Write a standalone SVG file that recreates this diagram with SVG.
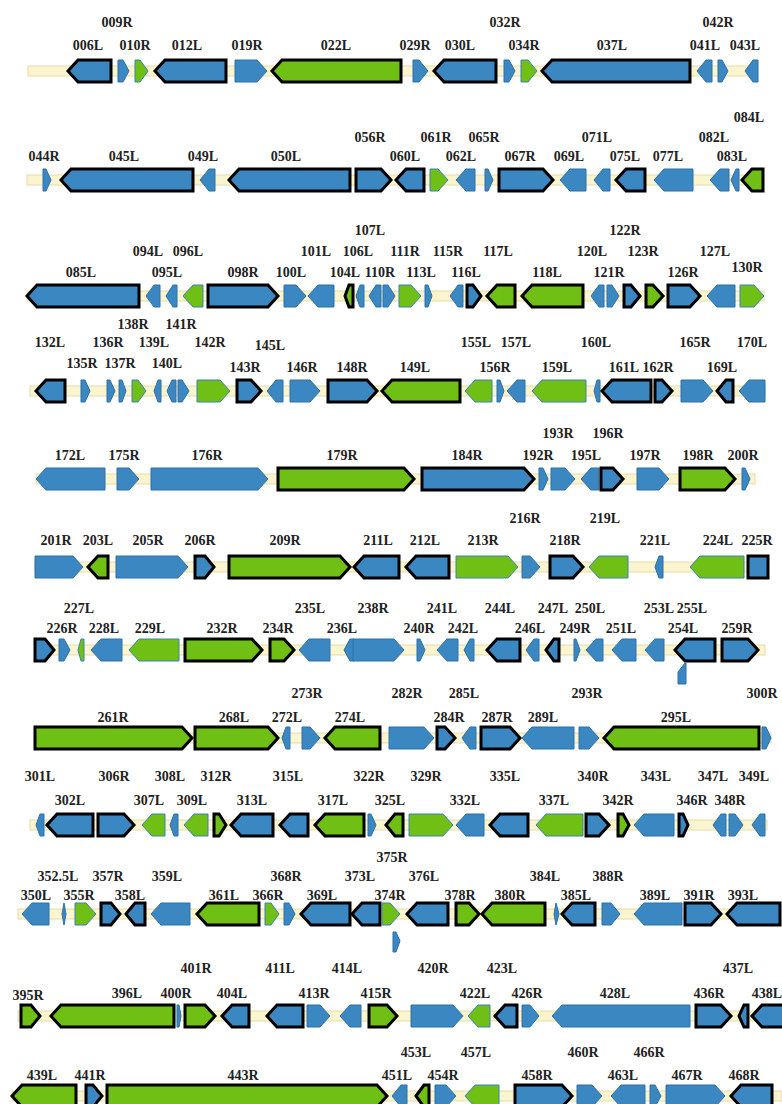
<svg xmlns="http://www.w3.org/2000/svg" width="782" height="1104" viewBox="0 0 782 1104">
<style>
.b{fill:#3b87c2;stroke:#2d70a8;stroke-width:1}
.g{fill:#6fbf14;stroke:#3a80c0;stroke-width:1}
.k{stroke:#000;stroke-width:3;stroke-linejoin:miter}
.bb{fill:#fbf5cf;stroke:#e6dca8;stroke-width:1}
text{font-family:"Liberation Serif",serif;font-weight:bold;font-size:14px;fill:#222;text-anchor:middle}
</style>
<rect width="782" height="1104" fill="#fff"/>
<g id="backbone">
<rect class="bb" x="28" y="66" width="729" height="10"/>
<rect class="bb" x="27" y="175" width="736" height="10"/>
<rect class="bb" x="27" y="291" width="737" height="10"/>
<rect class="bb" x="30" y="386" width="735" height="10"/>
<rect class="bb" x="36" y="474" width="719" height="10"/>
<rect class="bb" x="35" y="562" width="733" height="10"/>
<rect class="bb" x="35" y="645" width="730" height="10"/>
<rect class="bb" x="35" y="733" width="736" height="10"/>
<rect class="bb" x="30" y="820" width="737" height="10"/>
<rect class="bb" x="18" y="909" width="762" height="10"/>
<rect class="bb" x="18" y="1011" width="764" height="10"/>
<rect class="bb" x="12" y="1091" width="770" height="10"/>
</g>
<!-- Row 1 -->
<g id="g006L"><polygon class="b k" points="68,71 78,60 111,60 111,82 78,82"/><text x="88" y="50">006L</text></g>
<g id="g009R"><polygon class="b" points="118,60 123,60 129,71 123,82 118,82"/><text x="117" y="27">009R</text></g>
<g id="g010R"><polygon class="g" points="135,60 140,60 148,71 140,82 135,82"/><text x="135" y="50">010R</text></g>
<g id="g012L"><polygon class="b k" points="155,71 165,60 226,60 226,82 165,82"/><text x="187" y="50">012L</text></g>
<g id="g019R"><polygon class="b" points="235,60 257,60 267,71 257,82 235,82"/><text x="247" y="50">019R</text></g>
<g id="g022L"><polygon class="g k" points="272,71 282,60 401,60 401,82 282,82"/><text x="336" y="50">022L</text></g>
<g id="g029R"><polygon class="b" points="413,60 419,60 428,71 419,82 413,82"/><text x="415" y="50">029R</text></g>
<g id="g030L"><polygon class="b k" points="434,71 444,60 496,60 496,82 444,82"/><text x="460" y="50">030L</text></g>
<g id="g032R"><polygon class="b" points="504,60 509,60 515,71 509,82 504,82"/><text x="505" y="27">032R</text></g>
<g id="g034R"><polygon class="g" points="521,60 528,60 537,71 528,82 521,82"/><text x="524" y="50">034R</text></g>
<g id="g037L"><polygon class="b k" points="542,71 552,60 690,60 690,82 552,82"/><text x="612" y="50">037L</text></g>
<g id="g041L"><polygon class="b" points="697,71 706,60 712,60 712,82 706,82"/><text x="705" y="50">041L</text></g>
<g id="g042R"><polygon class="b" points="718,60 722,60 728,71 722,82 718,82"/><text x="718" y="27">042R</text></g>
<g id="g043L"><polygon class="b" points="745,71 753,60 758,60 758,82 753,82"/><text x="745" y="50">043L</text></g>
<!-- Row 2 -->
<g id="g044R"><polygon class="b" points="43,169 46,169 51,180 46,191 43,191"/><text x="44" y="161">044R</text></g>
<g id="g045L"><polygon class="b k" points="61,180 71,169 193,169 193,191 71,191"/><text x="124" y="161">045L</text></g>
<g id="g049L"><polygon class="b" points="200,180 209,169 215,169 215,191 209,191"/><text x="203" y="161">049L</text></g>
<g id="g050L"><polygon class="b k" points="229,180 239,169 350,169 350,191 239,191"/><text x="286" y="161">050L</text></g>
<g id="g056R"><polygon class="b k" points="356,169 381,169 391,180 381,191 356,191"/><text x="370" y="142">056R</text></g>
<g id="g060L"><polygon class="b k" points="396,180 406,169 424,169 424,191 406,191"/><text x="405" y="161">060L</text></g>
<g id="g061R"><polygon class="g" points="430,169 438,169 448,180 438,191 430,191"/><text x="436" y="142">061R</text></g>
<g id="g062L"><polygon class="b" points="456,180 466,169 475,169 475,191 466,191"/><text x="461" y="161">062L</text></g>
<g id="g065R"><polygon class="b" points="485,169 488,169 493,180 488,191 485,191"/><text x="484" y="142">065R</text></g>
<g id="g067R"><polygon class="b k" points="499,169 543,169 553,180 543,191 499,191"/><text x="520" y="161">067R</text></g>
<g id="g069L"><polygon class="b" points="560,180 570,169 586,169 586,191 570,191"/><text x="569" y="161">069L</text></g>
<g id="g071L"><polygon class="b" points="594,180 603,169 610,169 610,191 603,191"/><text x="597" y="142">071L</text></g>
<g id="g075L"><polygon class="b k" points="616,180 626,169 645,169 645,191 626,191"/><text x="625" y="161">075L</text></g>
<g id="g077L"><polygon class="b" points="654,180 664,169 693,169 693,191 664,191"/><text x="668" y="161">077L</text></g>
<g id="g082L"><polygon class="b" points="710,180 720,169 729,169 729,191 720,191"/><text x="714" y="142">082L</text></g>
<g id="g083L"><polygon class="b" points="731,180 736,169 739,169 739,191 736,191"/><text x="732" y="161">083L</text></g>
<g id="g084L"><polygon class="g k" points="742,180 752,169 763,169 763,191 752,191"/><text x="749" y="122">084L</text></g>
<!-- Row 3 -->
<g id="g085L"><polygon class="b k" points="27,296 37,285 139,285 139,307 37,307"/><text x="81" y="277">085L</text></g>
<g id="g094L"><polygon class="b" points="146,296 154,285 160,285 160,307 154,307"/><text x="148" y="256">094L</text></g>
<g id="g095L"><polygon class="b" points="166,296 173,285 177,285 177,307 173,307"/><text x="167" y="277">095L</text></g>
<g id="g096L"><polygon class="g" points="183,296 193,285 203,285 203,307 193,307"/><text x="188" y="256">096L</text></g>
<g id="g098R"><polygon class="b k" points="208,285 268,285 278,296 268,307 208,307"/><text x="243" y="277">098R</text></g>
<g id="g100L"><polygon class="b" points="284,285 296,285 306,296 296,307 284,307"/><text x="291" y="277">100L</text></g>
<g id="g101L"><polygon class="b" points="308,296 318,285 334,285 334,307 318,307"/><text x="316" y="256">101L</text></g>
<g id="g104L"><polygon class="g k" points="345,296 349,285 353,285 353,307 349,307"/><text x="345" y="277">104L</text></g>
<g id="g106L"><polygon class="b" points="356,296 360,285 364,285 364,307 360,307"/><text x="358" y="256">106L</text></g>
<g id="g107L"><polygon class="b" points="369,296 376,285 381,285 381,307 376,307"/><text x="370" y="235">107L</text></g>
<g id="g110R"><polygon class="b" points="383,285 388,285 395,296 388,307 383,307"/><text x="380" y="277">110R</text></g>
<g id="g111R"><polygon class="g" points="399,285 411,285 421,296 411,307 399,307"/><text x="405" y="256">111R</text></g>
<g id="g113L"><polygon class="b" points="425,285 428,285 432,296 428,307 425,307"/><text x="421" y="277">113L</text></g>
<g id="g115R"><polygon class="b" points="450,296 458,285 463,285 463,307 458,307"/><text x="448" y="256">115R</text></g>
<g id="g116L"><polygon class="b k" points="467,285 473,285 481,296 473,307 467,307"/><text x="466" y="277">116L</text></g>
<g id="g117L"><polygon class="g k" points="487,296 497,285 515,285 515,307 497,307"/><text x="498" y="256">117L</text></g>
<g id="g118L"><polygon class="g k" points="522,296 532,285 583,285 583,307 532,307"/><text x="547" y="277">118L</text></g>
<g id="g120L"><polygon class="b" points="591,296 599,285 604,285 604,307 599,307"/><text x="592" y="256">120L</text></g>
<g id="g121R"><polygon class="b" points="607,285 612,285 619,296 612,307 607,307"/><text x="609" y="277">121R</text></g>
<g id="g122R"><polygon class="b k" points="624,285 631,285 640,296 631,307 624,307"/><text x="625" y="235">122R</text></g>
<g id="g123R"><polygon class="g k" points="646,285 653,285 663,296 653,307 646,307"/><text x="643" y="256">123R</text></g>
<g id="g126R"><polygon class="b k" points="668,285 690,285 700,296 690,307 668,307"/><text x="683" y="277">126R</text></g>
<g id="g127L"><polygon class="b" points="707,296 717,285 735,285 735,307 717,307"/><text x="715" y="256">127L</text></g>
<g id="g130R"><polygon class="g" points="740,285 754,285 764,296 754,307 740,307"/><text x="747" y="272">130R</text></g>
<!-- Row 4 -->
<g id="g132L"><polygon class="b k" points="36,391 46,380 65,380 65,402 46,402"/><text x="50" y="347">132L</text></g>
<g id="g135R"><polygon class="b" points="81,380 85,380 90,391 85,402 81,402"/><text x="82" y="368">135R</text></g>
<g id="g136R"><polygon class="b" points="107,380 110,380 115,391 110,402 107,402"/><text x="108" y="347">136R</text></g>
<g id="g137R"><polygon class="b" points="119,380 122,380 126,391 122,402 119,402"/><text x="120" y="368">137R</text></g>
<g id="g138R"><polygon class="g" points="132,380 138,380 146,391 138,402 132,402"/><text x="133" y="329">138R</text></g>
<g id="g139L"><polygon class="b" points="154,391 158,380 161,380 161,402 158,402"/><text x="154" y="347">139L</text></g>
<g id="g140L"><polygon class="b" points="167,391 172,380 176,380 176,402 172,402"/><text x="167" y="368">140L</text></g>
<g id="g141R"><polygon class="b" points="178,380 182,380 189,391 182,402 178,402"/><text x="181" y="329">141R</text></g>
<g id="g142R"><polygon class="g" points="197,380 220,380 230,391 220,402 197,402"/><text x="210" y="347">142R</text></g>
<g id="g143R"><polygon class="b k" points="237,380 251,380 261,391 251,402 237,402"/><text x="245" y="372">143R</text></g>
<g id="g145L"><polygon class="b" points="267,391 276,380 283,380 283,402 276,402"/><text x="270" y="350">145L</text></g>
<g id="g146R"><polygon class="b" points="290,380 310,380 320,391 310,402 290,402"/><text x="302" y="372">146R</text></g>
<g id="g148R"><polygon class="b k" points="328,380 367,380 377,391 367,402 328,402"/><text x="352" y="372">148R</text></g>
<g id="g149L"><polygon class="g k" points="382,391 392,380 460,380 460,402 392,402"/><text x="415" y="372">149L</text></g>
<g id="g155L"><polygon class="g" points="465,391 475,380 492,380 492,402 475,402"/><text x="476" y="347">155L</text></g>
<g id="g156R"><polygon class="b" points="497,380 500,380 504,391 500,402 497,402"/><text x="495" y="372">156R</text></g>
<g id="g157L"><polygon class="b" points="507,391 517,380 525,380 525,402 517,402"/><text x="516" y="347">157L</text></g>
<g id="g159L"><polygon class="g" points="532,391 542,380 586,380 586,402 542,402"/><text x="557" y="372">159L</text></g>
<g id="g160L"><polygon class="b" points="594,391 597,380 600,380 600,402 597,402"/><text x="596" y="347">160L</text></g>
<g id="g161L"><polygon class="b k" points="602,391 612,380 651,380 651,402 612,402"/><text x="624" y="372">161L</text></g>
<g id="g162R"><polygon class="b k" points="655,380 662,380 672,391 662,402 655,402"/><text x="658" y="372">162R</text></g>
<g id="g165R"><polygon class="b" points="681,380 703,380 713,391 703,402 681,402"/><text x="695" y="347">165R</text></g>
<g id="g169L"><polygon class="b k" points="717,391 726,380 733,380 733,402 726,402"/><text x="722" y="372">169L</text></g>
<g id="g170L"><polygon class="b" points="739,391 749,380 765,380 765,402 749,402"/><text x="752" y="347">170L</text></g>
<!-- Row 5 -->
<g id="g172L"><polygon class="b" points="36,479 46,468 105,468 105,490 46,490"/><text x="70" y="460">172L</text></g>
<g id="g175R"><polygon class="b" points="117,468 129,468 139,479 129,490 117,490"/><text x="124" y="460">175R</text></g>
<g id="g176R"><polygon class="b" points="151,468 258,468 268,479 258,490 151,490"/><text x="207" y="460">176R</text></g>
<g id="g179R"><polygon class="g k" points="278,468 404,468 414,479 404,490 278,490"/><text x="342" y="460">179R</text></g>
<g id="g184R"><polygon class="b k" points="422,468 524,468 534,479 524,490 422,490"/><text x="467" y="460">184R</text></g>
<g id="g192R"><polygon class="b" points="539,468 543,468 548,479 543,490 539,490"/><text x="538" y="460">192R</text></g>
<g id="g193R"><polygon class="b" points="551,468 565,468 575,479 565,490 551,490"/><text x="558" y="438">193R</text></g>
<g id="g195L"><polygon class="b" points="581,479 591,468 599,468 599,490 591,490"/><text x="586" y="460">195L</text></g>
<g id="g196R"><polygon class="b k" points="601,468 613,468 623,479 613,490 601,490"/><text x="608" y="438">196R</text></g>
<g id="g197R"><polygon class="b" points="637,468 659,468 669,479 659,490 637,490"/><text x="645" y="460">197R</text></g>
<g id="g198R"><polygon class="g k" points="680,468 725,468 735,479 725,490 680,490"/><text x="698" y="460">198R</text></g>
<g id="g200R"><polygon class="b" points="742,468 745,468 750,479 745,490 742,490"/><text x="743" y="460">200R</text></g>
<!-- Row 6 -->
<g id="g201R"><polygon class="b" points="35,556 73,556 83,567 73,578 35,578"/><text x="56" y="545">201R</text></g>
<g id="g203L"><polygon class="g k" points="88,567 98,556 108,556 108,578 98,578"/><text x="98" y="545">203L</text></g>
<g id="g205R"><polygon class="b" points="116,556 178,556 188,567 178,578 116,578"/><text x="148" y="545">205R</text></g>
<g id="g206R"><polygon class="b k" points="195,556 205,556 214,567 205,578 195,578"/><text x="200" y="545">206R</text></g>
<g id="g209R"><polygon class="g k" points="229,556 340,556 350,567 340,578 229,578"/><text x="285" y="545">209R</text></g>
<g id="g211L"><polygon class="b k" points="354,567 364,556 399,556 399,578 364,578"/><text x="378" y="545">211L</text></g>
<g id="g212L"><polygon class="b k" points="406,567 416,556 449,556 449,578 416,578"/><text x="425" y="545">212L</text></g>
<g id="g213R"><polygon class="g" points="456,556 508,556 518,567 508,578 456,578"/><text x="483" y="545">213R</text></g>
<g id="g216R"><polygon class="b" points="522,556 530,556 540,567 530,578 522,578"/><text x="525" y="523">216R</text></g>
<g id="g218R"><polygon class="b k" points="550,556 573,556 583,567 573,578 550,578"/><text x="565" y="545">218R</text></g>
<g id="g219L"><polygon class="g" points="589,567 599,556 628,556 628,578 599,578"/><text x="605" y="523">219L</text></g>
<g id="g221L"><polygon class="b" points="655,567 659,556 663,556 663,578 659,578"/><text x="655" y="545">221L</text></g>
<g id="g224L"><polygon class="g" points="690,567 700,556 744,556 744,578 700,578"/><text x="718" y="545">224L</text></g>
<g id="g225R"><polygon class="b k" points="748,556 768,556 768,578 748,578"/><text x="757" y="545">225R</text></g>
<!-- Row 7 -->
<g id="g226a"><polygon class="b k" points="35,639 45,639 54,650 45,661 35,661"/></g>
<g id="g226R"><polygon class="b" points="59,639 64,639 70,650 64,661 59,661"/><text x="62" y="633">226R</text></g>
<g id="g227L"><polygon class="g" points="78,650 81,639 84,639 84,661 81,661"/><text x="79" y="613">227L</text></g>
<g id="g228L"><polygon class="b" points="91,650 101,639 122,639 122,661 101,661"/><text x="104" y="633">228L</text></g>
<g id="g229L"><polygon class="g" points="129,650 139,639 179,639 179,661 139,661"/><text x="150" y="633">229L</text></g>
<g id="g232R"><polygon class="g k" points="185,639 252,639 262,650 252,661 185,661"/><text x="222" y="633">232R</text></g>
<g id="g234R"><polygon class="g k" points="270,639 284,639 294,650 284,661 270,661"/><text x="278" y="633">234R</text></g>
<g id="g235L"><polygon class="b" points="299,650 309,639 330,639 330,661 309,661"/><text x="310" y="613">235L</text></g>
<g id="g236L"><polygon class="b" points="344,650 350,639 354,639 354,661 350,661"/><text x="342" y="633">236L</text></g>
<g id="g238R"><polygon class="b" points="353,639 394,639 404,650 394,661 353,661"/><text x="373" y="613">238R</text></g>
<g id="g240R"><polygon class="b" points="417,639 420,639 425,650 420,661 417,661"/><text x="419" y="633">240R</text></g>
<g id="g241L"><polygon class="b" points="437,650 447,639 458,639 458,661 447,661"/><text x="442" y="613">241L</text></g>
<g id="g242L"><polygon class="b" points="464,650 470,639 474,639 474,661 470,661"/><text x="463" y="633">242L</text></g>
<g id="g244L"><polygon class="b k" points="487,650 497,639 520,639 520,661 497,661"/><text x="500" y="613">244L</text></g>
<g id="g246L"><polygon class="b" points="526,650 534,639 539,639 539,661 534,661"/><text x="530" y="633">246L</text></g>
<g id="g247L"><polygon class="b k" points="546,650 554,639 559,639 559,661 554,661"/><text x="553" y="613">247L</text></g>
<g id="g249R"><polygon class="b" points="574,639 576,639 580,650 576,661 574,661"/><text x="575" y="633">249R</text></g>
<g id="g250L"><polygon class="b" points="586,650 596,639 603,639 603,661 596,661"/><text x="590" y="613">250L</text></g>
<g id="g251L"><polygon class="b" points="612,650 622,639 636,639 636,661 622,661"/><text x="621" y="633">251L</text></g>
<g id="g253L"><polygon class="b" points="645,650 655,639 664,639 664,661 655,661"/><text x="659" y="613">253L</text></g>
<g id="g254L"><polygon class="b k" points="675,650 685,639 715,639 715,661 685,661"/><text x="683" y="633">254L</text></g>
<g id="g255L"><polygon class="b" points="678,672 685,663 686,663 686,684 678,684"/><text x="692" y="613">255L</text></g>
<g id="g259R"><polygon class="b k" points="722,639 748,639 758,650 748,661 722,661"/><text x="737" y="633">259R</text></g>
<!-- Row 8 -->
<g id="g261R"><polygon class="g k" points="35,727 182,727 192,738 182,749 35,749"/><text x="113" y="722">261R</text></g>
<g id="g268L"><polygon class="g k" points="195,727 268,727 278,738 268,749 195,749"/><text x="234" y="722">268L</text></g>
<g id="g272L"><polygon class="b" points="282,738 286,727 290,727 290,749 286,749"/><text x="287" y="722">272L</text></g>
<g id="g273R"><polygon class="b" points="302,727 310,727 320,738 310,749 302,749"/><text x="307" y="698">273R</text></g>
<g id="g274L"><polygon class="g k" points="325,738 335,727 380,727 380,749 335,749"/><text x="350" y="722">274L</text></g>
<g id="g282R"><polygon class="b" points="389,727 424,727 434,738 424,749 389,749"/><text x="407" y="698">282R</text></g>
<g id="g284R"><polygon class="b k" points="437,727 445,727 455,738 445,749 437,749"/><text x="449" y="722">284R</text></g>
<g id="g285L"><polygon class="b" points="462,738 470,727 476,727 476,749 470,749"/><text x="464" y="698">285L</text></g>
<g id="g287R"><polygon class="b k" points="481,727 510,727 520,738 510,749 481,749"/><text x="497" y="722">287R</text></g>
<g id="g289L"><polygon class="b" points="522,738 532,727 574,727 574,749 532,749"/><text x="543" y="722">289L</text></g>
<g id="g293R"><polygon class="b" points="579,727 589,727 599,738 589,749 579,749"/><text x="587" y="698">293R</text></g>
<g id="g295L"><polygon class="g k" points="604,738 614,727 759,727 759,749 614,749"/><text x="676" y="722">295L</text></g>
<g id="g300R"><polygon class="b" points="762,727 766,727 771,738 766,749 762,749"/><text x="762" y="698">300R</text></g>
<!-- Row 9 -->
<g id="g301L"><polygon class="b" points="36,825 40,814 44,814 44,836 40,836"/><text x="40" y="781">301L</text></g>
<g id="g302L"><polygon class="b k" points="47,825 57,814 93,814 93,836 57,836"/><text x="70" y="805">302L</text></g>
<g id="g306R"><polygon class="b k" points="98,814 124,814 134,825 124,836 98,836"/><text x="114" y="781">306R</text></g>
<g id="g307L"><polygon class="g" points="142,825 152,814 165,814 165,836 152,836"/><text x="149" y="805">307L</text></g>
<g id="g308L"><polygon class="b" points="170,825 174,814 178,814 178,836 174,836"/><text x="170" y="781">308L</text></g>
<g id="g309L"><polygon class="g" points="184,825 194,814 208,814 208,836 194,836"/><text x="192" y="805">309L</text></g>
<g id="g312R"><polygon class="g k" points="214,814 219,814 226,825 219,836 214,836"/><text x="216" y="781">312R</text></g>
<g id="g313L"><polygon class="b k" points="231,825 241,814 273,814 273,836 241,836"/><text x="252" y="805">313L</text></g>
<g id="g315L"><polygon class="b k" points="280,825 290,814 308,814 308,836 290,836"/><text x="288" y="781">315L</text></g>
<g id="g317L"><polygon class="g k" points="315,825 325,814 364,814 364,836 325,836"/><text x="333" y="805">317L</text></g>
<g id="g322R"><polygon class="b" points="368,814 371,814 376,825 371,836 368,836"/><text x="369" y="781">322R</text></g>
<g id="g325L"><polygon class="g k" points="386,825 395,814 403,814 403,836 395,836"/><text x="390" y="805">325L</text></g>
<g id="g329R"><polygon class="g" points="409,814 443,814 453,825 443,836 409,836"/><text x="426" y="781">329R</text></g>
<g id="g332L"><polygon class="b" points="456,825 466,814 484,814 484,836 466,836"/><text x="465" y="805">332L</text></g>
<g id="g335L"><polygon class="b k" points="490,825 500,814 528,814 528,836 500,836"/><text x="505" y="781">335L</text></g>
<g id="g337L"><polygon class="g" points="536,825 546,814 583,814 583,836 546,836"/><text x="554" y="805">337L</text></g>
<g id="g340R"><polygon class="b k" points="586,814 599,814 609,825 599,836 586,836"/><text x="593" y="781">340R</text></g>
<g id="g342R"><polygon class="g k" points="618,814 623,814 629,825 623,836 618,836"/><text x="618" y="805">342R</text></g>
<g id="g343L"><polygon class="b" points="634,825 644,814 674,814 674,836 644,836"/><text x="656" y="781">343L</text></g>
<g id="g346R"><polygon class="b k" points="679,814 683,814 688,825 683,836 679,836"/><text x="692" y="805">346R</text></g>
<g id="g347L"><polygon class="b" points="713,825 721,814 726,814 726,836 721,836"/><text x="713" y="781">347L</text></g>
<g id="g348R"><polygon class="b" points="729,814 735,814 743,825 735,836 729,836"/><text x="730" y="805">348R</text></g>
<g id="g349L"><polygon class="b" points="752,825 760,814 765,814 765,836 760,836"/><text x="754" y="781">349L</text></g>
<!-- Row 10 -->
<g id="g350L"><polygon class="b" points="22,914 32,903 49,903 49,925 32,925"/><text x="36" y="900">350L</text></g>
<g id="g352.5L"><polygon class="b" points="62,914 64,903 66,914 64,925"/><text x="58" y="881">352.5L</text></g>
<g id="g355R"><polygon class="g" points="75,903 86,903 96,914 86,925 75,925"/><text x="79" y="900">355R</text></g>
<g id="g357R"><polygon class="b k" points="101,903 111,903 120,914 111,925 101,925"/><text x="108" y="881">357R</text></g>
<g id="g358L"><polygon class="b k" points="126,914 135,903 145,903 145,925 135,925"/><text x="130" y="900">358L</text></g>
<g id="g359L"><polygon class="b" points="151,914 161,903 190,903 190,925 161,925"/><text x="167" y="881">359L</text></g>
<g id="g361L"><polygon class="g k" points="197,914 207,903 259,903 259,925 207,925"/><text x="224" y="900">361L</text></g>
<g id="g366R"><polygon class="g" points="265,903 271,903 279,914 271,925 265,925"/><text x="268" y="900">366R</text></g>
<g id="g368R"><polygon class="b" points="284,903 289,903 295,914 289,925 284,925"/><text x="286" y="881">368R</text></g>
<g id="g369L"><polygon class="b k" points="301,914 311,903 350,903 350,925 311,925"/><text x="322" y="900">369L</text></g>
<g id="g373L"><polygon class="b k" points="352,914 362,903 380,903 380,925 362,925"/><text x="360" y="881">373L</text></g>
<g id="g374R"><polygon class="g" points="382,903 390,903 400,914 390,925 382,925"/><text x="390" y="900">374R</text></g>
<g id="g375R"><polygon class="b" points="393,932 396,932 400,941 396,952 393,952"/><text x="392" y="862">375R</text></g>
<g id="g376L"><polygon class="b k" points="407,914 417,903 448,903 448,925 417,925"/><text x="424" y="881">376L</text></g>
<g id="g378R"><polygon class="g k" points="456,903 469,903 479,914 469,925 456,925"/><text x="460" y="900">378R</text></g>
<g id="g380R"><polygon class="g k" points="482,914 492,903 545,903 545,925 492,925"/><text x="510" y="900">380R</text></g>
<g id="g384L"><polygon class="b" points="554,914 556,903 559,914 556,925"/><text x="545" y="881">384L</text></g>
<g id="g385L"><polygon class="b k" points="562,914 572,903 595,903 595,925 572,925"/><text x="576" y="900">385L</text></g>
<g id="g388R"><polygon class="b" points="602,903 611,903 620,914 611,925 602,925"/><text x="608" y="881">388R</text></g>
<g id="g389L"><polygon class="b" points="634,914 644,903 682,903 682,925 644,925"/><text x="655" y="900">389L</text></g>
<g id="g391R"><polygon class="b k" points="685,903 711,903 721,914 711,925 685,925"/><text x="699" y="900">391R</text></g>
<g id="g393L"><polygon class="b k" points="727,914 737,903 780,903 780,925 737,925"/><text x="743" y="900">393L</text></g>
<!-- Row 11 -->
<g id="g395R"><polygon class="g k" points="21,1005 31,1005 40,1016 31,1027 21,1027"/><text x="28" y="1000">395R</text></g>
<g id="g396L"><polygon class="g k" points="51,1016 61,1005 174,1005 174,1027 61,1027"/><text x="127" y="998">396L</text></g>
<g id="g400R"><polygon class="b" points="177,1005 179,1005 181,1016 179,1027 177,1027"/><text x="176" y="998">400R</text></g>
<g id="g401R"><polygon class="g k" points="185,1005 205,1005 215,1016 205,1027 185,1027"/><text x="196" y="973">401R</text></g>
<g id="g404L"><polygon class="b k" points="222,1016 232,1005 249,1005 249,1027 232,1027"/><text x="232" y="998">404L</text></g>
<g id="g411L"><polygon class="b k" points="267,1016 277,1005 303,1005 303,1027 277,1027"/><text x="280" y="973">411L</text></g>
<g id="g413R"><polygon class="b" points="307,1005 320,1005 330,1016 320,1027 307,1027"/><text x="314" y="998">413R</text></g>
<g id="g414L"><polygon class="b" points="340,1016 350,1005 361,1005 361,1027 350,1027"/><text x="347" y="973">414L</text></g>
<g id="g415R"><polygon class="g k" points="369,1005 387,1005 397,1016 387,1027 369,1027"/><text x="376" y="998">415R</text></g>
<g id="g420R"><polygon class="b" points="411,1005 453,1005 463,1016 453,1027 411,1027"/><text x="433" y="973">420R</text></g>
<g id="g422L"><polygon class="g" points="468,1016 478,1005 490,1005 490,1027 478,1027"/><text x="475" y="998">422L</text></g>
<g id="g423L"><polygon class="b k" points="495,1016 505,1005 517,1005 517,1027 505,1027"/><text x="502" y="973">423L</text></g>
<g id="g426R"><polygon class="b" points="522,1005 530,1005 539,1016 530,1027 522,1027"/><text x="527" y="998">426R</text></g>
<g id="g428L"><polygon class="b" points="552,1016 562,1005 690,1005 690,1027 562,1027"/><text x="615" y="998">428L</text></g>
<g id="g436R"><polygon class="b k" points="696,1005 721,1005 731,1016 721,1027 696,1027"/><text x="709" y="998">436R</text></g>
<g id="g437L"><polygon class="b k" points="739,1016 744,1005 748,1005 748,1027 744,1027"/><text x="738" y="973">437L</text></g>
<g id="g438L"><polygon class="b k" points="752,1016 762,1005 790,1005 790,1027 762,1027"/><text x="767" y="998">438L</text></g>
<!-- Row 12 -->
<g id="g439L"><polygon class="g k" points="12,1096 22,1085 76,1085 76,1107 22,1107"/><text x="42" y="1080">439L</text></g>
<g id="g441R"><polygon class="b k" points="86,1085 93,1085 102,1096 93,1107 86,1107"/><text x="90" y="1080">441R</text></g>
<g id="g443R"><polygon class="g k" points="107,1085 377,1085 387,1096 377,1107 107,1107"/><text x="243" y="1080">443R</text></g>
<g id="g451L"><polygon class="b" points="392,1096 401,1085 407,1085 407,1107 401,1107"/><text x="397" y="1080">451L</text></g>
<g id="g453L"><polygon class="g k" points="416,1096 424,1085 429,1085 429,1107 424,1107"/><text x="416" y="1057">453L</text></g>
<g id="g454R"><polygon class="b" points="435,1085 446,1085 456,1096 446,1107 435,1107"/><text x="443" y="1080">454R</text></g>
<g id="g457L"><polygon class="g" points="465,1096 475,1085 499,1085 499,1107 475,1107"/><text x="476" y="1057">457L</text></g>
<g id="g458R"><polygon class="b k" points="515,1085 562,1085 572,1096 562,1107 515,1107"/><text x="537" y="1080">458R</text></g>
<g id="g460R"><polygon class="b" points="577,1085 592,1085 602,1096 592,1107 577,1107"/><text x="583" y="1057">460R</text></g>
<g id="g463L"><polygon class="b" points="611,1096 621,1085 645,1085 645,1107 621,1107"/><text x="623" y="1080">463L</text></g>
<g id="g466R"><polygon class="b" points="650,1085 655,1085 661,1096 655,1107 650,1107"/><text x="649" y="1057">466R</text></g>
<g id="g467R"><polygon class="b" points="666,1085 715,1085 725,1096 715,1107 666,1107"/><text x="687" y="1080">467R</text></g>
<g id="g468R"><polygon class="b k" points="731,1096 741,1085 772,1085 772,1107 741,1107"/><text x="744" y="1080">468R</text></g>
</svg>
